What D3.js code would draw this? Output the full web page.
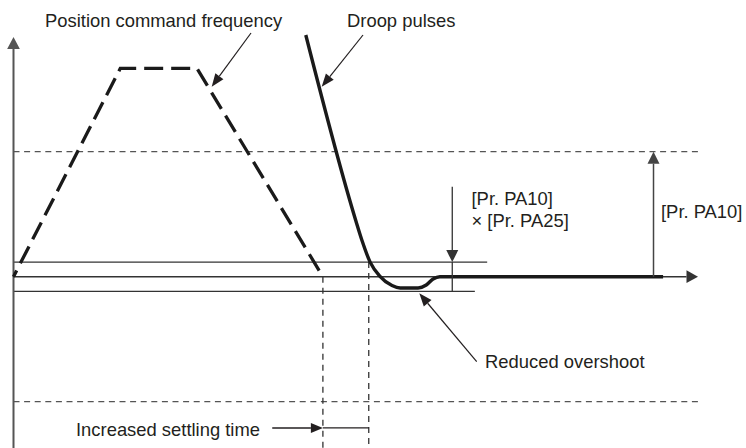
<!DOCTYPE html>
<html>
<head>
<meta charset="utf-8">
<script src="https://cdn.jsdelivr.net/npm/d3@7"></script>
<style>
  body { margin: 0; background: #fff; }
  text { font-family: "Liberation Sans", Arial, sans-serif; font-size: 18.4px; fill: #231f20; }
</style>
</head>
<body>
<script>
// time axis in % of the plotted span, vertical in % of command peak
var commandT    = [0, 15.6, 26.8, 45.2];
var commandFreq = [0, 100, 100, 0];

var droopT      = [42.7, 50.0, 50.9, 52.1, 53.5, 55.3, 56.5, 59.1, 60.3, 61.3, 62.3, 94.9];
var droopPulses = [116, 27, 17.5, 7, 0.3, -4.2, -5.4, -5.4, -4, -1.1, 0, 0];

var inPosBand   = [7, -7];      // [Pr. PA10] x [Pr. PA25]
var pa10Levels  = [60, -60];    // [Pr. PA10]
var settleT     = [45.2, 51.9]; // command ends, droop enters band
var bandEndT    = [69.2, 67.4];
var yAxisRange  = [-82, 115];

var width = 746, height = 448;

var x = d3.scaleLinear().domain([0, 100]).range([13.5, 698]);
var y = d3.scaleLinear().domain([-60, 60]).range([401.7, 151.7]);

var svg = d3.select("body").append("svg").attr("width", width).attr("height", height);

//filled triangle pointing from (x1,y1) towards tip (x2,y2)
function arrow(g, x1, y1, x2, y2, len, w, color, sw) {
  var a = Math.atan2(y2 - y1, x2 - x1);
  var bx = x2 - len * Math.cos(a), by = y2 - len * Math.sin(a);
  g.append("line").attr("x1", x1).attr("y1", y1).attr("x2", bx).attr("y2", by)
    .attr("stroke", color).attr("stroke-width", sw);
  var px = -Math.sin(a) * w / 2, py = Math.cos(a) * w / 2;
  g.append("path")
    .attr("d", "M" + x2 + "," + y2 + "L" + (bx + px) + "," + (by + py) + "L" + (bx - px) + "," + (by - py) + "Z")
    .attr("fill", color);
}

// PA10 dashed levels
svg.selectAll("line.level").data(pa10Levels).enter().append("line")
  .attr("class", "level")
  .attr("x1", x(0)).attr("x2", x(100.6))
  .attr("y1", function(d){ return y(d); }).attr("y2", function(d){ return y(d); })
  .attr("stroke", "#555").attr("stroke-width", 1.3).attr("stroke-dasharray", "6,4.6");

// in-position band lines
svg.selectAll("line.band").data(inPosBand).enter().append("line")
  .attr("class", "band")
  .attr("x1", x(0)).attr("x2", function(d, i){ return x(bandEndT[i]); })
  .attr("y1", function(d){ return y(d); }).attr("y2", function(d){ return y(d); })
  .attr("stroke", "#333").attr("stroke-width", 1.3);

// settling-time verticals
svg.selectAll("line.settle").data(settleT).enter().append("line")
  .attr("class", "settle")
  .attr("x1", function(d){ return x(d); }).attr("x2", function(d){ return x(d); })
  .attr("y1", function(d, i){ return i == 0 ? y(0) : y(inPosBand[0]); })
  .attr("y2", height)
  .attr("stroke", "#333").attr("stroke-width", 1.3).attr("stroke-dasharray", "6,5");

// axes
arrow(svg, x(0), height, x(0), y(yAxisRange[1]), 12, 12.7, "#555", 2);
arrow(svg, x(0), y(0), x(100), y(0), 11.5, 12.7, "#333", 1.4);

// position command (dashed trapezoid)
var cmdLine = d3.line()
  .x(function(d){ return x(d.t); })
  .y(function(d){ return y(d.v); });

svg.append("path")
  .attr("d", cmdLine(commandT.map(function(t, i){ return {t: t, v: commandFreq[i]}; })))
  .attr("fill", "none").attr("stroke", "#1a1a1a").attr("stroke-width", 3.3)
  .attr("stroke-dasharray", "19,8").attr("stroke-dashoffset", 12)
  .attr("stroke-linejoin", "miter");

// droop pulses
var droopLine = d3.line()
  .x(function(d){ return x(d.t); })
  .y(function(d){ return y(d.v); })
  .curve(d3.curveMonotoneX);

svg.append("path")
  .attr("d", droopLine(droopT.map(function(t, i){ return {t: t, v: droopPulses[i]}; })))
  .attr("fill", "none").attr("stroke", "#1a1a1a").attr("stroke-width", 3.4);

// band width arrow
var bx = x(64.1);
arrow(svg, bx, y(43.2), bx, y(inPosBand[0]), 12, 12, "#333", 1.3);
svg.append("line").attr("x1", bx).attr("x2", bx).attr("y1", y(inPosBand[0])).attr("y2", y(inPosBand[1]))
  .attr("stroke", "#333").attr("stroke-width", 1.3);

// PA10 arrow
arrow(svg, x(93.5), y(0), x(93.5), y(pa10Levels[0]), 12, 12, "#444", 1.5);

// settling time arrow
arrow(svg, x(37.8), y(-72.6), x(settleT[0]), y(-72.6), 12, 10, "#231f20", 1.4);
svg.append("line").attr("x1", x(settleT[0])).attr("x2", x(settleT[1]))
  .attr("y1", y(-72.6)).attr("y2", y(-72.6)).attr("stroke", "#231f20").attr("stroke-width", 1.2);

// pointer arrows
arrow(svg, 251, 33, 211.7, 86.7, 13, 10, "#231f20", 1.2);
arrow(svg, 363, 35, 321.7, 86.7, 13, 10, "#231f20", 1.2);
arrow(svg, 476.7, 361.7, 419.3, 293.3, 13, 10, "#231f20", 1.2);

// labels
var labels = [
  {t: "Position command frequency", x: 45, y: 26.7},
  {t: "Droop pulses", x: 347, y: 26.7},
  {t: "[Pr. PA10]", x: 471.5, y: 205},
  {t: "\u00d7 [Pr. PA25]", x: 471.5, y: 226.7},
  {t: "[Pr. PA10]", x: 661, y: 218},
  {t: "Reduced overshoot", x: 485, y: 368},
  {t: "Increased settling time", x: 76, y: 436}
];
svg.selectAll("text.lbl").data(labels).enter().append("text")
  .attr("class", "lbl")
  .attr("x", function(d){ return d.x; })
  .attr("y", function(d){ return d.y; })
  .text(function(d){ return d.t; });
</script>
</body>
</html>
